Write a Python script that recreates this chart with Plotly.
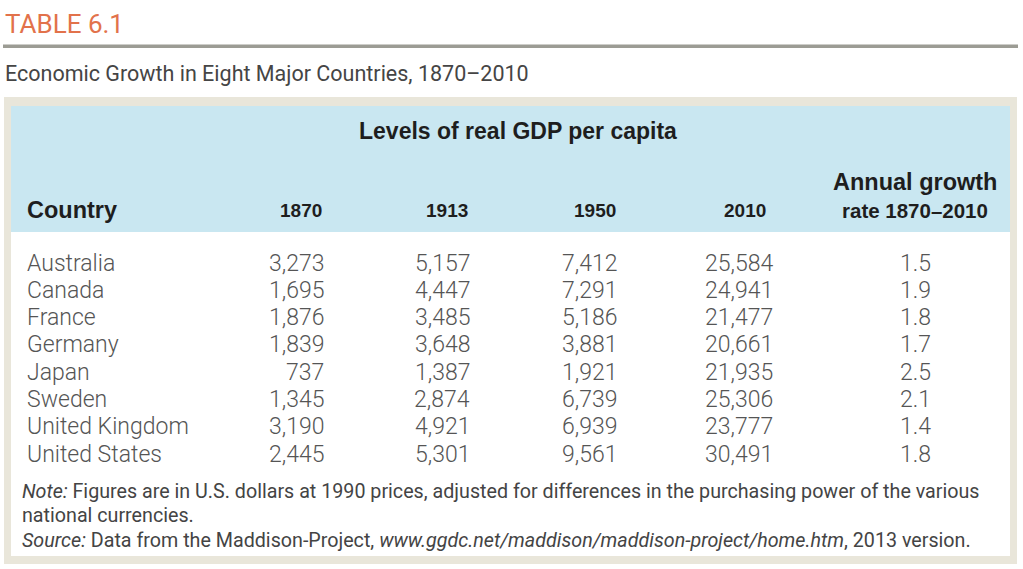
import plotly.graph_objects as go

# ---- data ----
countries = ["Australia", "Canada", "France", "Germany", "Japan", "Sweden",
             "United Kingdom", "United States"]
gdp_1870 = [3273, 1695, 1876, 1839, 737, 1345, 3190, 2445]
gdp_1913 = [5157, 4447, 3485, 3648, 1387, 2874, 4921, 5301]
gdp_1950 = [7412, 7291, 5186, 3881, 1921, 6739, 6939, 9561]
gdp_2010 = [25584, 24941, 21477, 20661, 21935, 25306, 23777, 30491]
growth = [1.5, 1.9, 1.8, 1.7, 2.5, 2.1, 1.4, 1.8]
year_labels = ["1870", "1913", "1950", "2010"]

table_label = "TABLE 6.1"
subtitle = "Economic Growth in Eight Major Countries, 1870\u20132010"
group_header = "Levels of real GDP per capita"
note_lines = [
    "<i>Note:</i> Figures are in U.S. dollars at 1990 prices, adjusted for differences in the purchasing power of the various",
    "national currencies.",
    "<i>Source:</i> Data from the Maddison-Project, <i>www.ggdc.net/maddison/maddison-project/home.htm</i>, 2013 version.",
]

# ---- style ----
W, H = 1023, 569
LIGHT = "Roboto, Liberation Sans, sans-serif"
BOLD = "Liberation Sans, Arial, sans-serif"
orange = "#E2724B"
frame = "#E9E6DA"
blue = "#C9E7F1"
body_col = "#555555"
head_col = "#1e1e1e"

fig = go.Figure()
fig.add_trace(go.Scatter(x=[0, W], y=[0, H], mode="markers",
                         marker=dict(opacity=0), hoverinfo="skip", showlegend=False))

shapes = [
    dict(type="rect", x0=3, x1=1018, y0=44.5, y1=48, fillcolor="#9C9C94", line_width=0),
    dict(type="rect", x0=4, x1=1017, y0=97, y1=564, fillcolor=frame, line_width=0),
    dict(type="rect", x0=11, x1=1010, y0=106, y1=556, fillcolor="white", line_width=0),
    dict(type="rect", x0=11, x1=1010, y0=106, y1=232, fillcolor=blue, line_width=0),
]

ann = []
def A(x, y, text, size, color, family, xanchor="left", weight=None):
    f = dict(size=size, color=color, family=family)
    if weight is not None:
        f["weight"] = weight
    ann.append(dict(x=x, y=y, text=text, showarrow=False, xanchor=xanchor,
                    yanchor="middle", font=f))

A(3, 24, table_label, 26, orange, LIGHT)
A(3, 73, subtitle, 21.5, "#454545", LIGHT)

A(518, 131, "<b>" + group_header + "</b>", 23, head_col, BOLD, xanchor="center")
A(25, 210, "<b>Country</b>", 23.5, head_col, BOLD)
year_x = [301, 447, 595, 745]
for xx, lab in zip(year_x, year_labels):
    A(xx, 210, "<b>" + lab + "</b>", 19, head_col, BOLD, xanchor="center")
A(915, 182, "<b>Annual growth</b>", 23.5, head_col, BOLD, xanchor="center")
A(915, 210, "<b>rate 1870\u20132010</b>", 20.5, head_col, BOLD, xanchor="center")

row_y0, row_dy = 263, 27.3
num_right = [326, 472, 619, 775]
cols = [gdp_1870, gdp_1913, gdp_1950, gdp_2010]
for i, c in enumerate(countries):
    y = row_y0 + i * row_dy
    A(25, y, c, 23, body_col, LIGHT, weight=300)
    for xr, col in zip(num_right, cols):
        A(xr, y, f"{col[i]:,}", 23, body_col, LIGHT, xanchor="right", weight=300)
    A(915, y, f"{growth[i]:.1f}", 23, body_col, LIGHT, xanchor="center", weight=300)

for yy, line in zip([491, 515, 540], note_lines):
    A(20, yy, line, 19.7, "#444444", LIGHT)

fig.update_layout(
    width=W, height=H, margin=dict(l=0, r=0, t=0, b=0),
    paper_bgcolor="white", plot_bgcolor="white",
    xaxis=dict(range=[0, W], visible=False, fixedrange=True),
    yaxis=dict(range=[H, 0], visible=False, fixedrange=True),
    shapes=shapes, annotations=ann, showlegend=False,
)
fig.write_html("out.html", config={"displayModeBar": False},
               post_script="document.body.style.margin='0';")
